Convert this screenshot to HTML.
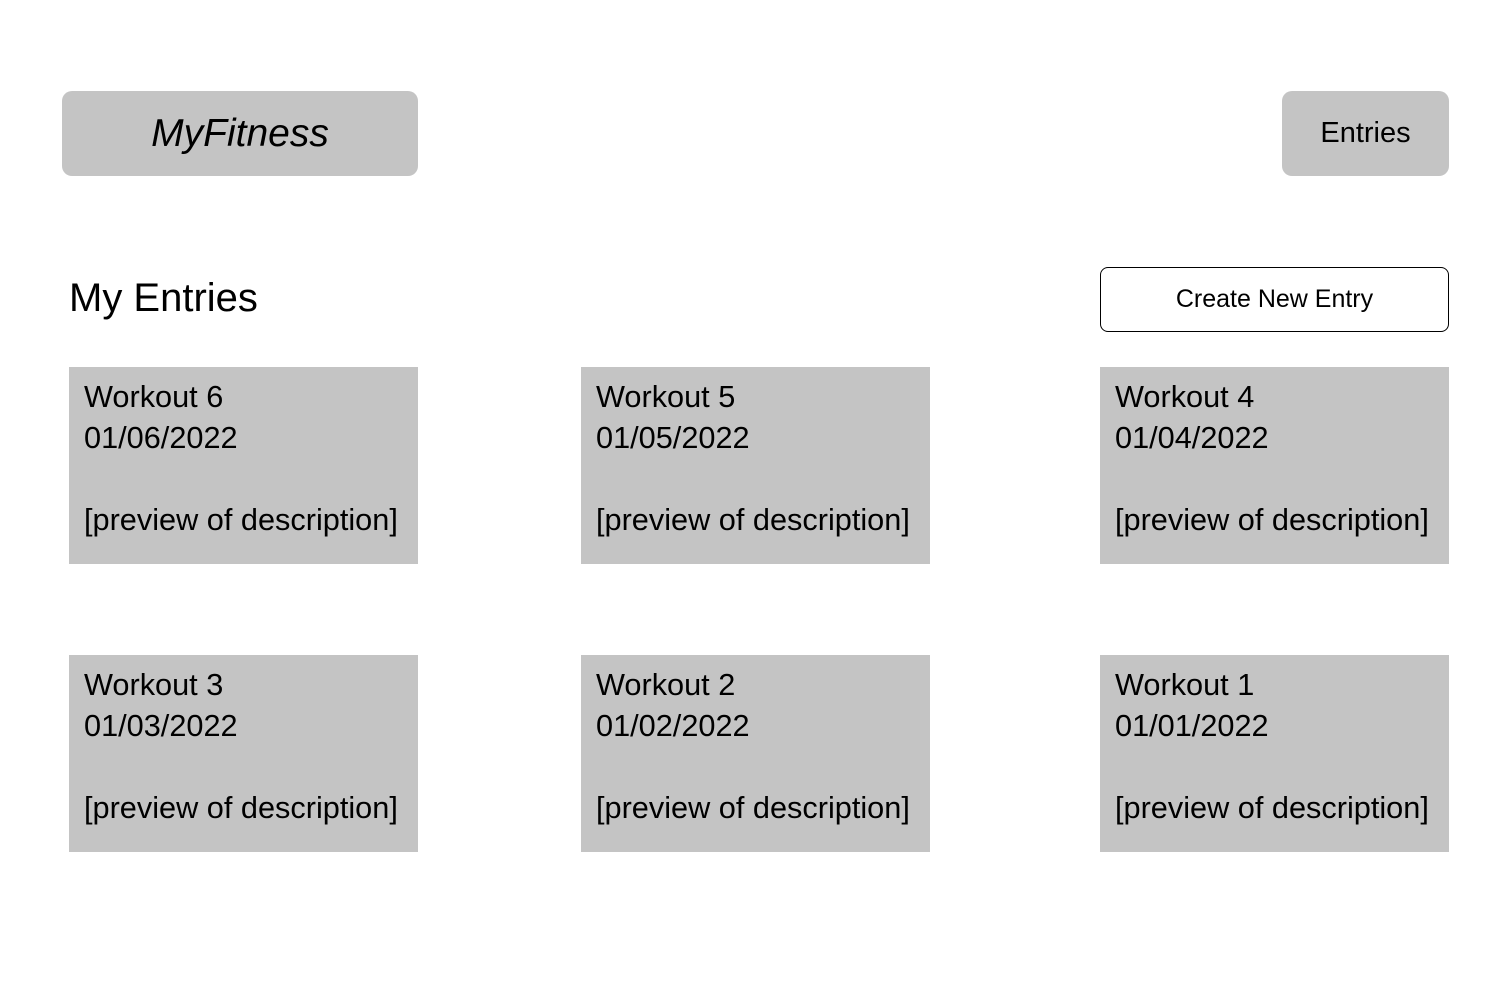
<!DOCTYPE html>
<html><head><meta charset="utf-8"><style>
body{margin:0;width:1512px;height:982px;background:#fff;position:relative;font-family:"Liberation Sans",sans-serif;color:#000;overflow:hidden}
.a{position:absolute;box-sizing:border-box}
.g{background:#c4c4c4}
.card{width:349px;height:197px}
.t{position:absolute;left:15px;top:9px;font-size:30.7px;line-height:41px;white-space:nowrap}
</style></head><body>
<div class="a g" style="left:62px;top:91px;width:356px;height:85px;border-radius:10px;display:flex;align-items:center;justify-content:center;font-size:39px;font-style:italic">MyFitness</div>
<div class="a g" style="left:1282px;top:91px;width:167px;height:85px;border-radius:10px;display:flex;align-items:center;justify-content:center;font-size:29px">Entries</div>
<div class="a" style="left:69px;top:275px;font-size:40px;line-height:46px">My Entries</div>
<div class="a" style="left:1100px;top:267px;width:349px;height:65px;border:1px solid #000;border-radius:8px;display:flex;align-items:center;justify-content:center;font-size:25px">Create New Entry</div>

<div class="a g card" style="left:69px;top:367px"><div class="t">Workout 6<br>01/06/2022<br><br>[preview of description]</div></div>
<div class="a g card" style="left:581px;top:367px"><div class="t">Workout 5<br>01/05/2022<br><br>[preview of description]</div></div>
<div class="a g card" style="left:1100px;top:367px"><div class="t">Workout 4<br>01/04/2022<br><br>[preview of description]</div></div>
<div class="a g card" style="left:69px;top:655px"><div class="t">Workout 3<br>01/03/2022<br><br>[preview of description]</div></div>
<div class="a g card" style="left:581px;top:655px"><div class="t">Workout 2<br>01/02/2022<br><br>[preview of description]</div></div>
<div class="a g card" style="left:1100px;top:655px"><div class="t">Workout 1<br>01/01/2022<br><br>[preview of description]</div></div>
</body></html>
